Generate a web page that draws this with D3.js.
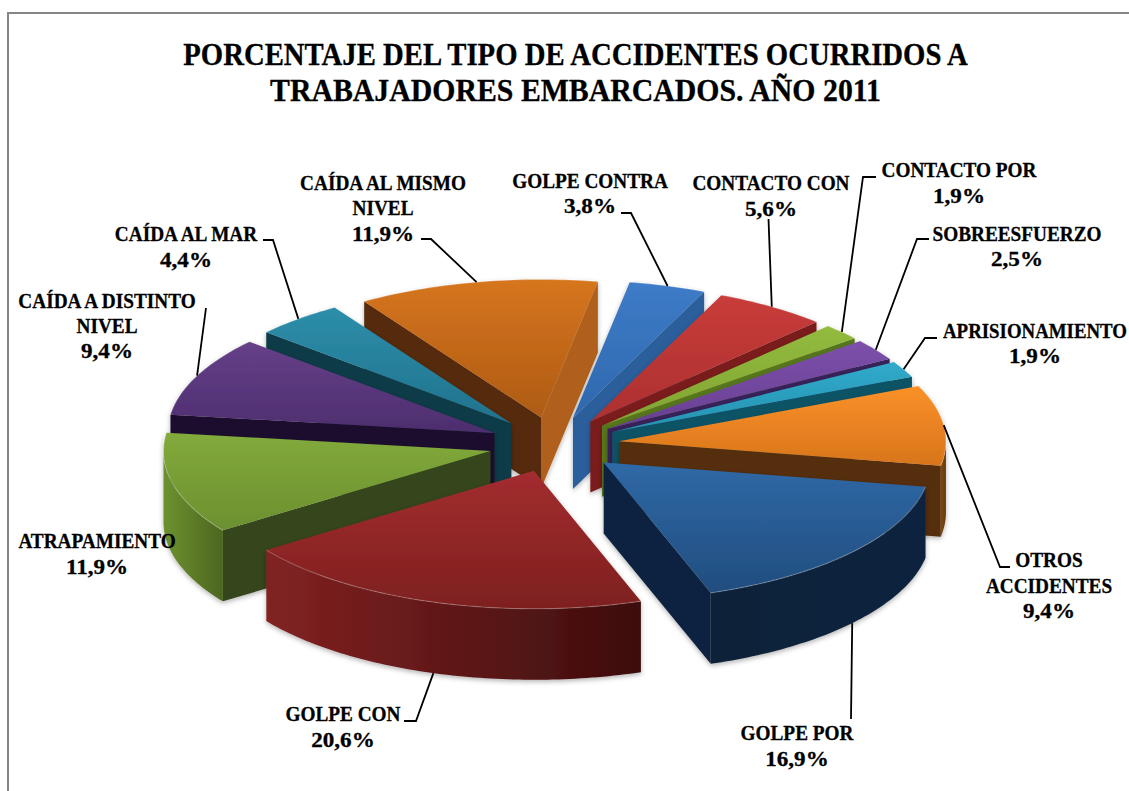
<!DOCTYPE html>
<html>
<head>
<meta charset="utf-8">
<script src="https://cdn.jsdelivr.net/npm/d3@7/dist/d3.min.js"></script>
<style>
  html, body { margin:0; padding:0; background:#fff; overflow:hidden; }
  text { font-family:"Liberation Serif", serif; font-weight:bold; fill:#000; stroke:#000; stroke-width:0.3; }
</style>
</head>
<body>
<script>
// data, clockwise from the top
var categories = ["GOLPE CONTRA","CONTACTO CON","CONTACTO POR","SOBREESFUERZO","APRISIONAMIENTO","OTROS ACCIDENTES",
                  "GOLPE POR","GOLPE CON","ATRAPAMIENTO","CAÍDA A DISTINTO NIVEL","CAÍDA AL MAR","CAÍDA AL MISMO NIVEL"];
var values = [3.8,5.6,1.9,2.5,1.9,9.4,16.9,20.6,11.9,9.4,4.4,11.9];
var valueLabels = ["3,8%","5,6%","1,9%","2,5%","1,9%","9,4%","16,9%","20,6%","11,9%","9,4%","4,4%","11,9%"];
var titleLines = ["PORCENTAJE DEL TIPO DE ACCIDENTES OCURRIDOS A","TRABAJADORES EMBARCADOS. AÑO 2011"];

// colours: top light, top dark, side wall, outer wall left, outer wall right
var palette = [
  ["#3d7bc8","#2f68ad","#2b5f9c","#2b5f9c","#2b5f9c"],
  ["#c83c3a","#ac302f","#7a1e1e","#7a1e1e","#7a1e1e"],
  ["#93bb3e","#7fa432","#56771f","#56771f","#56771f"],
  ["#7c50aa","#683f92","#38205a","#38205a","#38205a"],
  ["#31aacb","#2692b0","#0f5266","#0f5266","#0f5266"],
  ["#fa9129","#d8751b","#552f0c","#7e470f","#6a3a0c"],
  ["#2f69a7","#214d7e","#10233f","#0f2138","#11243f"],
  ["#a32d2f","#7e1f1f","#5a1414","#822222","#3d0d0d"],
  ["#82aa3b","#6c9030","#35441a","#6d9130","#4c661f"],
  ["#664089","#4d2d6e","#1f102d","#1f102d","#1f102d"],
  ["#2d8eaa","#1f728d","#0c3a47","#0c3a47","#0c3a47"],
  ["#d6751e","#ae5b14","#54290a","#54290a","#54290a"]
];
var endWallColors = {0:"#2b5f9c", 11:"#b0611a"};

// label layout: name lines, centre x, one baseline per line, leader start points
var labelLayout = [
  {lines:["GOLPE CONTRA"], x:590, y:[188,213], leader:[[621,213],[631,213]]},
  {lines:["CONTACTO CON"], x:771, y:[190,216], leader:[[768.5,219]]},
  {lines:["CONTACTO POR"], x:959, y:[177,203], leader:[[876,177],[863,177]]},
  {lines:["SOBREESFUERZO"], x:1017, y:[241,266], leader:[[929,239],[917,239]]},
  {lines:["APRISIONAMIENTO"], x:1035, y:[338,363], leader:[[937,338],[925,338]], squeeze:0.92},
  {lines:["OTROS","ACCIDENTES"], x:1049, y:[567,593,618], leader:[[1010,567],[1000,567]]},
  {lines:["GOLPE POR"], x:797, y:[740,766], leader:[[851,719]]},
  {lines:["GOLPE CON"], x:343, y:[721,747], leader:[[404,721],[416,721]]},
  {lines:["ATRAPAMIENTO"], x:97, y:[548,574], leader:null},
  {lines:["CAÍDA A DISTINTO","NIVEL"], x:107, y:[308,333,358], leader:[[206,308]]},
  {lines:["CAÍDA AL MAR"], x:186, y:[241,267], leader:[[263,240],[273,240]]},
  {lines:["CAÍDA AL MISMO","NIVEL"], x:383, y:[190,215,241], leader:[[421,239],[431,239]]}
];

var width = 1129, height = 791;
var cx = 554, cy = 444.5, rx = 327, ry = 138, depth = 71, explode = 0.2;
var rad = Math.PI/180, startDeg = 10;

var svg = d3.select("body").append("svg").attr("width", width).attr("height", height);
var defs = svg.append("defs");

var shadow = defs.append("filter").attr("id","shadow")
    .attr("x","-10%").attr("y","-10%").attr("width","120%").attr("height","125%");
shadow.append("feDropShadow").attr("dx",0).attr("dy",2).attr("stdDeviation",2.5)
    .attr("flood-color","#000").attr("flood-opacity",0.3);

// frame
svg.append("path").attr("d","M8,"+height+"V13H"+width)
    .attr("fill","none").attr("stroke","#868686").attr("stroke-width",2);

// unit circle -> screen
var x = d3.scaleLinear().domain([-1,1]).range([cx-rx, cx+rx]);
var y = d3.scaleLinear().domain([-1,1]).range([cy-ry, cy+ry]);

var pie = d3.pie().sort(null).startAngle(startDeg*rad).endAngle((startDeg+360)*rad);
var arcs = pie(values);
var line = d3.line();

function ux(a){ return Math.sin(a); }
function uy(a){ return -Math.cos(a); }

arcs.forEach(function(d, i){
  var mid = (d.startAngle+d.endAngle)/2;
  d.index = i;
  d.mid = mid;
  d.tip = [x(explode*ux(mid)), y(explode*uy(mid))];
  d.at = function(a, drop){
    return [d.tip[0]+rx*ux(a), d.tip[1]+ry*uy(a)+(drop||0)];
  };
});

function arcPoints(d, from, to, drop){
  var n = Math.max(2, Math.ceil(Math.abs(to-from)/(1*rad)));
  return d3.range(n+1).map(function(k){ return d.at(from+(to-from)*k/n, drop); });
}

function gradient(id, horizontal, c0, c1){
  var g = defs.append("linearGradient").attr("id",id)
      .attr("x1",0).attr("y1",0).attr("x2",horizontal?1:0).attr("y2",horizontal?0:1);
  g.append("stop").attr("offset","0%").attr("stop-color",c0);
  g.append("stop").attr("offset","100%").attr("stop-color",c1);
}

// back slices first
var order = arcs.slice().sort(function(a, b){
  return (a.tip[1]-b.tip[1]) || 0;
});

order.forEach(function(d){
  var i = d.index, c = palette[i];
  var g = svg.append("g").attr("filter","url(#shadow)");
  gradient("top"+i, false, c[0], c[1]);
  gradient("out"+i, true, c[3], c[4]);

  var bottomEnd = [d.tip[0], d.tip[1]+depth];

  // end edge wall, seen when the edge points to the right half
  if (Math.sin(d.endAngle) > 0) {
    g.append("path")
      .attr("d", line([d.tip, d.at(d.endAngle), d.at(d.endAngle, depth), bottomEnd])+"Z")
      .attr("fill", endWallColors[i] || c[2]);
  }
  // start edge wall
  if (Math.sin(d.startAngle) < 0) {
    g.append("path")
      .attr("d", line([d.tip, d.at(d.startAngle), d.at(d.startAngle, depth), bottomEnd])+"Z")
      .attr("fill", c[2]);
  }
  // outer wall, only the front half of the rim
  var from = Math.max(d.startAngle, Math.PI/2), to = Math.min(d.endAngle, 1.5*Math.PI);
  if (to > from) {
    var pts = arcPoints(d, from, to, 0).concat(arcPoints(d, to, from, depth));
    g.append("path").attr("d", line(pts)+"Z").attr("fill", "url(#out"+i+")");
  }
  // top face
  var top = [d.tip].concat(arcPoints(d, d.startAngle, d.endAngle, 0));
  g.append("path").attr("d", line(top)+"Z").attr("fill", "url(#top"+i+")");
  // light rim
  g.append("path").attr("d", line(arcPoints(d, d.startAngle, d.endAngle, 0)))
    .attr("fill","none").attr("stroke","#fff").attr("stroke-opacity",0.22).attr("stroke-width",1.2);
});

// leader lines end on the rim at the middle of each slice
labelLayout.forEach(function(l, i){
  if (!l.leader) return;
  var d = arcs[i];
  var front = Math.cos(d.mid) < 0;
  var end = d.at(d.mid, front ? depth : 0);
  svg.append("path").attr("d", line(l.leader.concat([end])))
    .attr("fill","none").attr("stroke","#000").attr("stroke-width",1.8);
});

// the reference font is narrower in the names and wider in the numbers
function drawLine(s, px, py, size, sx){
  svg.append("text").attr("transform","translate("+px+","+py+") scale("+sx+",1)")
    .attr("text-anchor","middle").attr("font-size",size).text(s);
}

labelLayout.forEach(function(l, i){
  l.lines.forEach(function(s, k){ drawLine(s, l.x, l.y[k], 20.5, l.squeeze || 0.94); });
  drawLine(valueLabels[i], l.x, l.y[l.lines.length], 21, 1.1);
});

// title, squeezed to the width of the reference lines
var titleWidths = [785, 611];
titleLines.forEach(function(s, k){
  var t = svg.append("text").attr("text-anchor","middle").attr("font-size",31.5).text(s);
  var sx = titleWidths[k]/t.node().getComputedTextLength();
  t.attr("transform","translate(575.5,"+(64.5+k*36.5)+") scale("+sx+",1)");
});
</script>
</body>
</html>
